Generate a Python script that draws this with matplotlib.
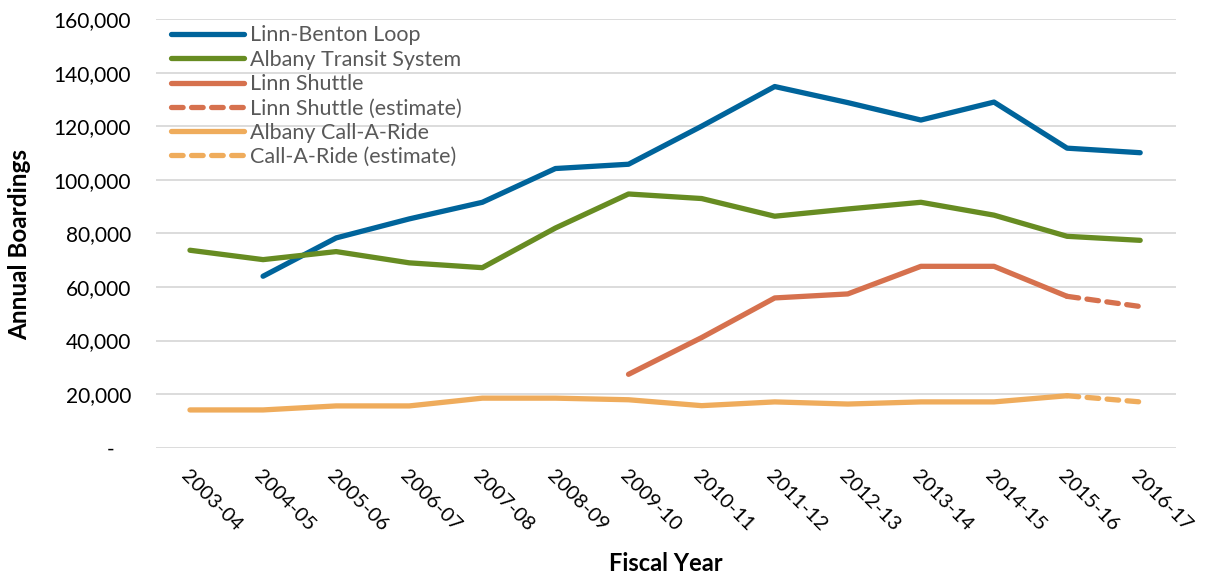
import matplotlib
matplotlib.use("Agg")
import matplotlib.pyplot as plt
import numpy as np
from matplotlib.ticker import FuncFormatter

years = ["2003-04", "2004-05", "2005-06", "2006-07", "2007-08", "2008-09", "2009-10",
         "2010-11", "2011-12", "2012-13", "2013-14", "2014-15", "2015-16", "2016-17"]

loop = [np.nan, 64000, 78300, 85400, 91600, 104200, 105800, 120000, 134800, 128800,
        122300, 129000, 111800, 110100]
ats = [73700, 70200, 73200, 69000, 67200, 82000, 94700, 93000, 86400, 89100,
       91600, 86800, 78900, 77400]
shuttle = [np.nan] * 6 + [27400, 41100, 55900, 57400, 67700, 67700, 56500, np.nan]
shuttle_est = [np.nan] * 12 + [56500, 52700]
callaride = [14100, 14100, 15600, 15600, 18500, 18500, 17900, 15700, 17100, 16300,
             17100, 17100, 19400, np.nan]
callaride_est = [np.nan] * 12 + [19400, 17100]

c_blue = "#00649B"
c_green = "#678C22"
c_orange = "#D6714E"
c_yellow = "#EFAC5C"

plt.rcParams['font.family'] = ['Lato', 'DejaVu Sans']

fig = plt.figure(figsize=(12.11, 5.78), dpi=100)
ax = fig.add_axes([0.1288, 0.2254, 0.8423, 0.7417])

x = np.arange(len(years))
lw = 3.8
ax.plot(x, loop, color=c_blue, lw=lw, solid_capstyle='round', label="Linn-Benton Loop")
ax.plot(x, ats, color=c_green, lw=lw, solid_capstyle='round', label="Albany Transit System")
ax.plot(x, shuttle, color=c_orange, lw=lw, solid_capstyle='round', label="Linn Shuttle")
ax.plot(x, shuttle_est, color=c_orange, lw=lw, ls=(0, (2.2, 1.6)), dash_capstyle='round',
        label="Linn Shuttle (estimate)")
ax.plot(x, callaride, color=c_yellow, lw=lw, solid_capstyle='round', label="Albany Call-A-Ride")
ax.plot(x, callaride_est, color=c_yellow, lw=lw, ls=(0, (2.2, 1.6)), dash_capstyle='round',
        label="Call-A-Ride (estimate)")

ax.set_xlim(-0.465, 13.49)
ax.set_ylim(0, 160000)
ax.set_yticks(np.arange(0, 160001, 20000))
ax.yaxis.set_major_formatter(FuncFormatter(lambda v, p: "-   " if v == 0 else f"{int(v):,}"))
ax.grid(axis='y', color='#D9D9D9', lw=1.3)
ax.set_axisbelow(True)
for s in ax.spines.values():
    s.set_visible(False)
ax.tick_params(axis='both', length=0, colors='black')
ax.tick_params(axis='y', pad=18, labelsize=15)

ax.set_xticks(x)
ax.set_xticklabels(years, rotation=-45, ha='left', va='top', rotation_mode='anchor', fontsize=14.5)
ax.tick_params(axis='x', pad=14)

ax.set_ylabel("Annual Boardings", fontsize=17.5, fontweight='bold', va='center')
ax.yaxis.set_label_coords(-0.1333, 0.473)
ax.set_xlabel("Fiscal Year", fontsize=17, fontweight='bold', va='center')
ax.xaxis.set_label_coords(0.5, -0.269)

leg = ax.legend(loc='upper left', bbox_to_anchor=(0.004, 1.01), frameon=False, fontsize=15.5,
                handlelength=3.4, handletextpad=0.28, labelspacing=0.2, borderaxespad=0.1)
for t in leg.get_texts():
    t.set_color('#595959')

fig.savefig("out.png", dpi=100)
